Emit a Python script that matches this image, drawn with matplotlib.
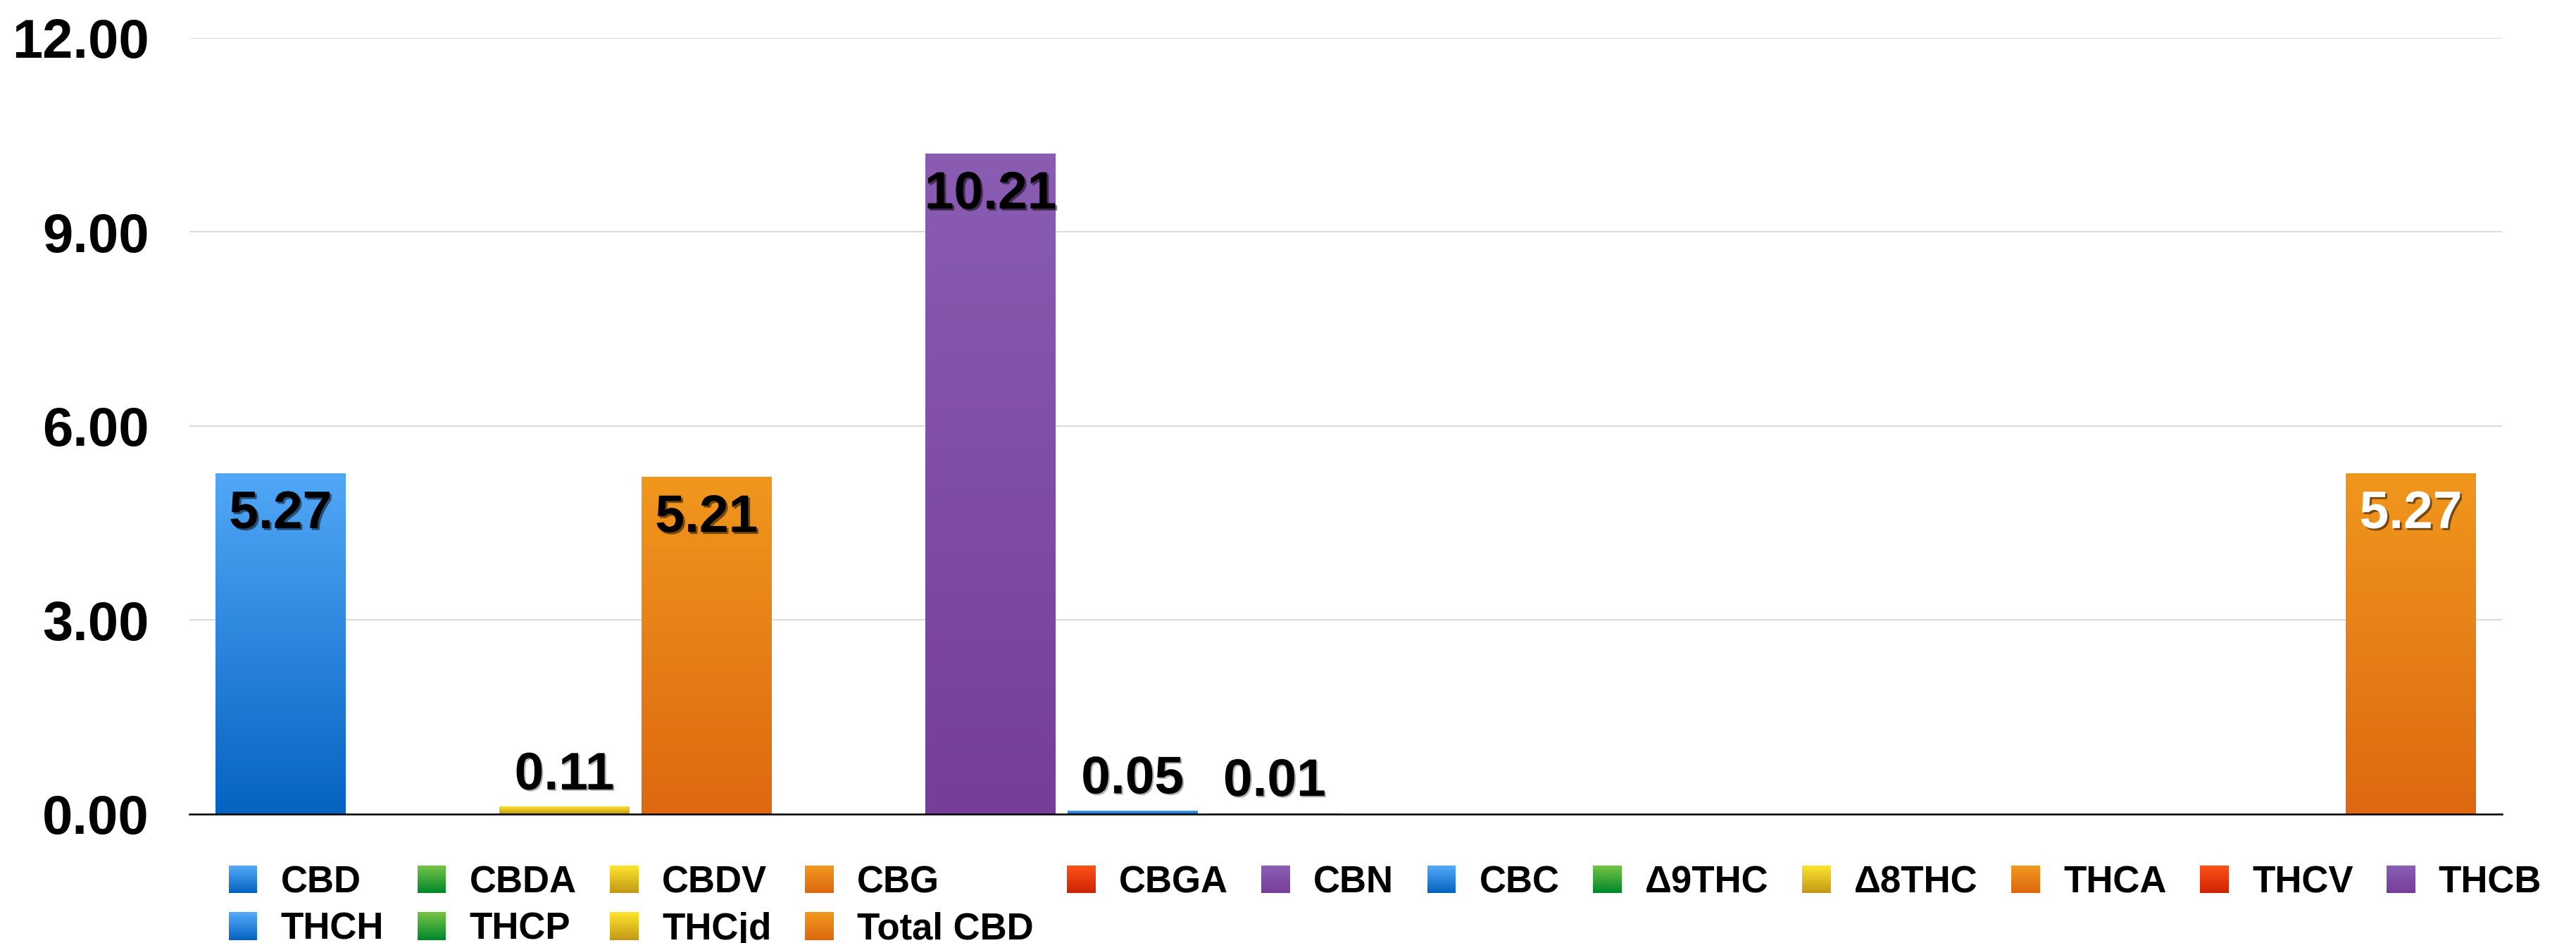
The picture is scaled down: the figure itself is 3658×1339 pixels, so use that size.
import matplotlib
matplotlib.use("Agg")
import matplotlib.pyplot as plt
import matplotlib.patheffects as pe
import numpy as np
from matplotlib.colors import LinearSegmentedColormap, to_rgb
from matplotlib.legend_handler import HandlerBase
from matplotlib.patches import Rectangle

plt.rcParams['font.family'] = ['Liberation Sans', 'DejaVu Sans']

# data
names = ["CBD", "CBDA", "CBDV", "CBG", "CBGA", "CBN", "CBC", "Δ9THC", "Δ8THC",
         "THCA", "THCV", "THCB", "THCH", "THCP", "THCjd", "Total CBD"]
values = [5.27, 0.0, 0.11, 5.21, 0.0, 10.21, 0.05, 0.01, 0.0,
          0.0, 0.0, 0.0, 0.0, 0.0, 0.0, 5.27]
yticks = [0, 3, 6, 9, 12]

# gradient colours (top, bottom), cycled over the series
palette = [("#52A8F7", "#0563C1"),   # blue
           ("#72C143", "#00882B"),   # green
           ("#FBE22D", "#C29A16"),   # yellow
           ("#F0971D", "#DD6810"),   # orange
           ("#FF4F18", "#CC2505"),   # red
           ("#8A5DB3", "#763D99")]   # purple
white_labels = ["Total CBD"]


class GradientHandler(HandlerBase):
    def __init__(self, top, bottom, steps=14):
        super().__init__()
        self.top = np.array(to_rgb(top))
        self.bottom = np.array(to_rgb(bottom))
        self.steps = steps

    def create_artists(self, legend, orig_handle, xdescent, ydescent,
                       width, height, fontsize, trans):
        arts = []
        for k in range(self.steps):
            t = k / (self.steps - 1)
            col = self.bottom * (1 - t) + self.top * t
            r = Rectangle((-xdescent, -ydescent + height * k / self.steps),
                          width, height / self.steps + 0.3,
                          facecolor=col, edgecolor='none', transform=trans)
            arts.append(r)
        return arts


def main():
    fig = plt.figure(figsize=(36.58, 13.39), dpi=100)
    ax = fig.add_axes([0.0735, 0.1367, 0.8978, 0.8230])

    x = np.arange(len(names))
    width = 0.917
    bars = ax.bar(x, values, width=width, color='none', zorder=2)

    grad = np.linspace(0, 1, 256)[:, None]
    for i, (bar, v) in enumerate(zip(bars, values)):
        top, bottom = palette[i % len(palette)]
        if v <= 0:
            continue
        cmap = LinearSegmentedColormap.from_list('g%d' % i, [bottom, top])
        x0 = bar.get_x()
        ax.imshow(grad, cmap=cmap, origin='lower', aspect='auto',
                  extent=[x0, x0 + bar.get_width(), 0, v], zorder=2,
                  interpolation='bilinear')

    # value labels
    for i, (name, v) in enumerate(zip(names, values)):
        if v <= 0:
            continue
        lab = "%.2f" % v
        if v > 1:
            col = 'white' if name in white_labels else 'black'
            ax.annotate(lab, (x[i], v), xytext=(0, -42), textcoords='offset points',
                        ha='center', va='center', fontsize=54, fontweight='bold',
                        color=col, zorder=4,
                        path_effects=[pe.withSimplePatchShadow(offset=(2, -2),
                                                               shadow_rgbFace='black',
                                                               alpha=0.5)])
        else:
            ax.annotate(lab, (x[i], v), xytext=(0, 32), textcoords='offset points',
                        ha='center', va='center', fontsize=54, fontweight='bold',
                        color='black', zorder=4,
                        path_effects=[pe.withSimplePatchShadow(offset=(1.5, -1.5),
                                                               shadow_rgbFace='black',
                                                               alpha=0.3)])

    ax.set_xlim(-0.642, len(names) - 1 + 0.642)
    ax.set_ylim(0, 12)
    ax.set_yticks(yticks)
    ax.set_yticklabels(["%.2f" % t for t in yticks], fontsize=56, fontweight='bold')
    ax.set_xticks([])
    ax.tick_params(axis='y', length=0, pad=41)
    ax.grid(axis='y', color='#d0d0d0', linewidth=1.1, zorder=0)
    ax.set_axisbelow(True)
    for s in ['top', 'right', 'left']:
        ax.spines[s].set_visible(False)
    ax.spines['bottom'].set_color('black')
    ax.spines['bottom'].set_linewidth(1.8)
    ax.spines['bottom'].set_zorder(3)

    # legend: 12 columns, filled row by row
    proxies = []
    hmap = {}
    for i, name in enumerate(names):
        top, bottom = palette[i % len(palette)]
        p = Rectangle((0, 0), 1, 1, label=name)
        proxies.append(p)
        hmap[p] = GradientHandler(top, bottom)
    ncol = 12
    order = []
    for c in range(ncol):
        order.append(c)
        if c + ncol < len(names):
            order.append(c + ncol)
    fig.legend([proxies[k] for k in order], [names[k] for k in order],
               handler_map=hmap, ncol=ncol, loc='upper left',
               bbox_to_anchor=(0.0888, 1 - 1228 / 1339), frameon=False,
               prop={'size': 38, 'weight': 'bold'},
               handlelength=0.77, handleheight=0.77, handletextpad=0.63,
               columnspacing=0.9, labelspacing=0.32, borderpad=0,
               borderaxespad=0)

    fig.savefig("out.png", dpi=100)


if __name__ == "__main__":
    main()
